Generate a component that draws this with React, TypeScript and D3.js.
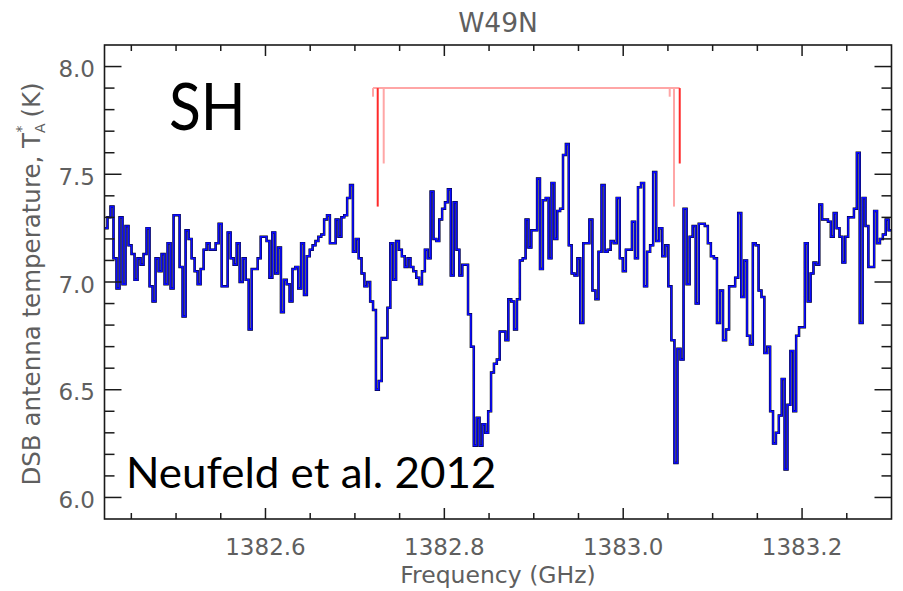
import React from 'react';
import * as d3 from 'd3';

const W = 903;
const H = 591;
const PLOT = { left: 104.5, right: 891.5, top: 45, bottom: 519 };

const xDomain: [number, number] = [1382.42, 1383.3];
const yDomain: [number, number] = [5.9, 8.1];
const xMajorTicks = [1382.6, 1382.8, 1383.0, 1383.2];
const yMajorTicks = [6.0, 6.5, 7.0, 7.5, 8.0];
const xMinorStep = 0.05;
const yMinorStep = 0.1;

const titleText = 'W49N';
const xLabel = 'Frequency (GHz)';
const speciesLabel = 'SH';
const refLabel = 'Neufeld et al. 2012';

// frequency edges of the spectrum chunks (GHz); channels are evenly spread inside each chunk
const chunkEdges = [1382.42, 1382.598, 1382.775, 1382.952, 1383.132, 1383.3];

const spec1 = [7.25, 7.30, 7.35, 7.11, 6.97, 7.30, 6.99, 7.26, 7.17, 7.13, 7.01, 7.11, 7.08, 7.13, 7.25, 6.98, 6.91, 7.11, 7.05, 7.13, 6.99, 7.18, 6.97, 7.31, 7.31, 7.07, 6.84, 7.24, 7.20, 7.11, 7.05, 6.99, 7.06, 7.15, 7.18, 7.15, 7.15, 7.18, 7.27, 6.98, 6.98, 7.23, 7.11, 7.08, 7.18, 7.00, 7.11, 7.01, 6.78, 7.06, 7.06, 7.11, 7.21];
const spec2 = [7.21, 7.19, 7.02, 7.23, 7.04, 7.16, 6.86, 7.01, 6.99, 6.91, 7.06, 7.07, 6.97, 7.18, 6.94, 7.12, 7.15, 7.17, 7.19, 7.21, 7.22, 7.29, 7.31, 7.18, 7.18, 7.29, 7.21, 7.30, 7.31, 7.39, 7.45, 7.14, 7.20, 7.11, 7.04, 6.98, 7.00, 6.91, 6.87, 6.50, 6.54, 6.74, 6.74, 6.88, 7.18, 7.01, 7.19, 7.15, 7.12, 7.07, 7.11, 7.07, 7.05, 7.02, 6.99];
const spec3 = [7.05, 7.15, 7.11, 7.42, 7.20, 7.19, 7.29, 7.34, 7.37, 7.43, 7.03, 7.37, 7.15, 7.03, 7.08, 7.08, 6.85, 6.70, 6.24, 6.37, 6.24, 6.34, 6.30, 6.40, 6.58, 6.62, 6.64, 6.77, 6.77, 6.73, 6.92, 6.91, 6.78, 6.92, 7.10, 7.11, 7.29, 7.16, 7.24, 7.24, 7.48, 7.06, 7.38, 7.39, 7.11, 7.46, 7.20, 7.33, 7.34, 7.59, 7.64, 7.17, 7.04, 7.03, 7.11];
const spec4 = [6.81, 7.18, 7.18, 7.29, 6.96, 6.92, 7.14, 7.45, 7.14, 7.15, 7.19, 7.18, 7.39, 7.11, 7.05, 7.15, 7.15, 7.28, 7.11, 7.44, 7.46, 6.98, 7.14, 7.17, 7.51, 7.19, 7.25, 7.12, 7.17, 6.98, 6.73, 6.16, 6.69, 6.64, 7.34, 6.99, 7.21, 7.26, 6.90, 7.27, 7.27, 7.26, 7.18, 7.12, 7.11, 6.81, 6.96, 6.73, 6.78, 6.98, 6.98, 7.02, 7.32];
const spec5 = [6.93, 7.10, 6.75, 6.71, 7.18, 7.17, 6.96, 6.93, 6.67, 6.70, 6.40, 6.25, 6.30, 6.38, 6.55, 6.13, 6.43, 6.68, 6.40, 6.75, 6.79, 6.79, 7.18, 6.91, 7.04, 7.09, 7.08, 7.36, 7.29, 7.29, 7.28, 7.21, 7.32, 7.25, 7.21, 7.09, 7.21, 7.30, 7.30, 7.34, 7.60, 6.81, 7.39, 7.26, 7.07, 7.07, 7.33, 7.18, 7.20, 7.22, 7.29, 7.24];
const spectrumChunks = [spec1, spec2, spec3, spec4, spec5];

// hyperfine component markers
const markerBarLevel = 7.9;
const redMarkerFreqs = [1382.7255, 1383.0632];
const redMarkerEnds = [7.35, 7.55];
const pinkMarkerFreqs = [1382.7202, 1382.7322, 1383.052, 1383.0568];
const pinkMarkerEnds = [7.86, 7.55, 7.86, 7.35];

const AXIS_COLOR = '#1a1a1a';
const TEXT_COLOR = '#5f5f5f';
const FONT = '"DejaVu Sans", sans-serif';
const SLIDE_FONT = "Lato, 'Open Sans', sans-serif";

export default function App() {
  const x = d3.scaleLinear().domain(xDomain).range([PLOT.left, PLOT.right]);
  const y = d3.scaleLinear().domain(yDomain).range([PLOT.bottom, PLOT.top]);

  const pts: [number, number][] = [];
  spectrumChunks.forEach((vals, k) => {
    const f0 = chunkEdges[k];
    const w = (chunkEdges[k + 1] - f0) / vals.length;
    vals.forEach((v, i) => pts.push([f0 + i * w, v]));
  });
  const lastVals = spectrumChunks[spectrumChunks.length - 1];
  pts.push([chunkEdges[chunkEdges.length - 1], lastVals[lastVals.length - 1]]);

  const line = d3
    .line<[number, number]>()
    .x((d) => x(d[0]))
    .y((d) => y(d[1]))
    .curve(d3.curveStepAfter);
  const path = line(pts) || '';

  const eps = 1e-6;
  const xMinor = d3
    .range(Math.ceil(xDomain[0] / xMinorStep) * xMinorStep, xDomain[1] - eps, xMinorStep)
    .map((v) => Math.round(v * 1000) / 1000)
    .filter((v) => v > xDomain[0] + eps && v < xDomain[1] - eps && !xMajorTicks.some((m) => Math.abs(m - v) < eps));
  const yMinor = d3
    .range(Math.ceil(yDomain[0] / yMinorStep) * yMinorStep, yDomain[1] - eps, yMinorStep)
    .map((v) => Math.round(v * 1000) / 1000)
    .filter((v) => v > yDomain[0] + eps && v < yDomain[1] - eps && !yMajorTicks.some((m) => Math.abs(m - v) < eps));

  const xMajLen = 11;
  const xMinLen = 6;
  const yMajLen = 17;
  const yMinLen = 10;

  const barLeft = Math.min(...pinkMarkerFreqs, ...redMarkerFreqs);
  const barRight = Math.max(...pinkMarkerFreqs, ...redMarkerFreqs);

  return (
    <svg
      width={W}
      height={H}
      viewBox={`0 0 ${W} ${H}`}
      style={{ position: 'absolute', left: 0, top: 0, background: '#fff' }}
    >
      <defs>
        <clipPath id="plotclip">
          <rect x={PLOT.left} y={PLOT.top} width={PLOT.right - PLOT.left} height={PLOT.bottom - PLOT.top} />
        </clipPath>
      </defs>
      <rect x={0} y={0} width={W} height={H} fill="#fff" />

      {/* title */}
      <text x={(PLOT.left + PLOT.right) / 2} y={31.5} textAnchor="middle" fontFamily={FONT} fontSize={26.5} fill={TEXT_COLOR}>
        {titleText}
      </text>

      {/* spectrum */}
      <g clipPath="url(#plotclip)">
        <path d={path} fill="none" stroke="#000" strokeWidth={2.5} strokeLinejoin="miter" />
        <path d={path} fill="none" stroke="#0b0bff" strokeWidth={1.7} strokeLinejoin="miter" />
      </g>

      {/* markers */}
      <g>
        <line x1={x(barLeft)} x2={x(barRight)} y1={y(markerBarLevel)} y2={y(markerBarLevel)} stroke="#ffa6a6" strokeWidth={2} />
        {pinkMarkerFreqs.map((f, i) => (
          <line key={'p' + i} x1={x(f)} x2={x(f)} y1={y(markerBarLevel)} y2={y(pinkMarkerEnds[i])} stroke="#ffa6a6" strokeWidth={2} />
        ))}
        {redMarkerFreqs.map((f, i) => (
          <line key={'r' + i} x1={x(f)} x2={x(f)} y1={y(markerBarLevel)} y2={y(redMarkerEnds[i])} stroke="#ff2a2a" strokeWidth={2} />
        ))}
      </g>

      {/* frame */}
      <rect
        x={PLOT.left}
        y={PLOT.top}
        width={PLOT.right - PLOT.left}
        height={PLOT.bottom - PLOT.top}
        fill="none"
        stroke={AXIS_COLOR}
        strokeWidth={1.6}
      />

      {/* ticks */}
      <g stroke={AXIS_COLOR} strokeWidth={1.5}>
        {xMajorTicks.map((t) => (
          <g key={'xm' + t}>
            <line x1={x(t)} x2={x(t)} y1={PLOT.bottom} y2={PLOT.bottom - xMajLen} />
            <line x1={x(t)} x2={x(t)} y1={PLOT.top} y2={PLOT.top + xMajLen} />
          </g>
        ))}
        {xMinor.map((t) => (
          <g key={'xn' + t}>
            <line x1={x(t)} x2={x(t)} y1={PLOT.bottom} y2={PLOT.bottom - xMinLen} />
            <line x1={x(t)} x2={x(t)} y1={PLOT.top} y2={PLOT.top + xMinLen} />
          </g>
        ))}
        {yMajorTicks.map((t) => (
          <g key={'ym' + t}>
            <line x1={PLOT.left} x2={PLOT.left + yMajLen} y1={y(t)} y2={y(t)} />
            <line x1={PLOT.right} x2={PLOT.right - yMajLen} y1={y(t)} y2={y(t)} />
          </g>
        ))}
        {yMinor.map((t) => (
          <g key={'yn' + t}>
            <line x1={PLOT.left} x2={PLOT.left + yMinLen} y1={y(t)} y2={y(t)} />
            <line x1={PLOT.right} x2={PLOT.right - yMinLen} y1={y(t)} y2={y(t)} />
          </g>
        ))}
      </g>

      {/* tick labels */}
      <g fontFamily={FONT} fontSize={23} fill={TEXT_COLOR}>
        {xMajorTicks.map((t) => (
          <text key={'xl' + t} x={x(t)} y={PLOT.bottom + 36} textAnchor="middle">
            {d3.format('.1f')(t)}
          </text>
        ))}
        {yMajorTicks.map((t) => (
          <text key={'yl' + t} x={PLOT.left - 9.5} y={y(t) + 10.5} textAnchor="end">
            {d3.format('.1f')(t)}
          </text>
        ))}
      </g>

      {/* axis labels */}
      <text x={(PLOT.left + PLOT.right) / 2} y={583} textAnchor="middle" fontFamily={FONT} fontSize={23.5} fill={TEXT_COLOR}>
        {xLabel}
      </text>
      <text
        transform={`translate(39.5, ${(PLOT.top + PLOT.bottom) / 2 + 2}) rotate(-90)`}
        textAnchor="middle"
        fontFamily={FONT}
        fontSize={24.5}
        fill={TEXT_COLOR}
      >
        DSB antenna temperature, T
        <tspan fontSize={14} dy={5}>A</tspan>
        <tspan fontSize={14} dx={-9} dy={-19}>*</tspan>
        <tspan dy={14}> (K)</tspan>
      </text>

      {/* annotations */}
      <text transform="translate(169,130) scale(0.89,1)" x={0} y={0} fontFamily={SLIDE_FONT} fontSize={66} fill="#000">
        {speciesLabel}
      </text>
      <text transform="translate(126,488) scale(1.046,1)" x={0} y={0} fontFamily={SLIDE_FONT} fontSize={42} fill="#000">
        {refLabel}
      </text>
    </svg>
  );
}
